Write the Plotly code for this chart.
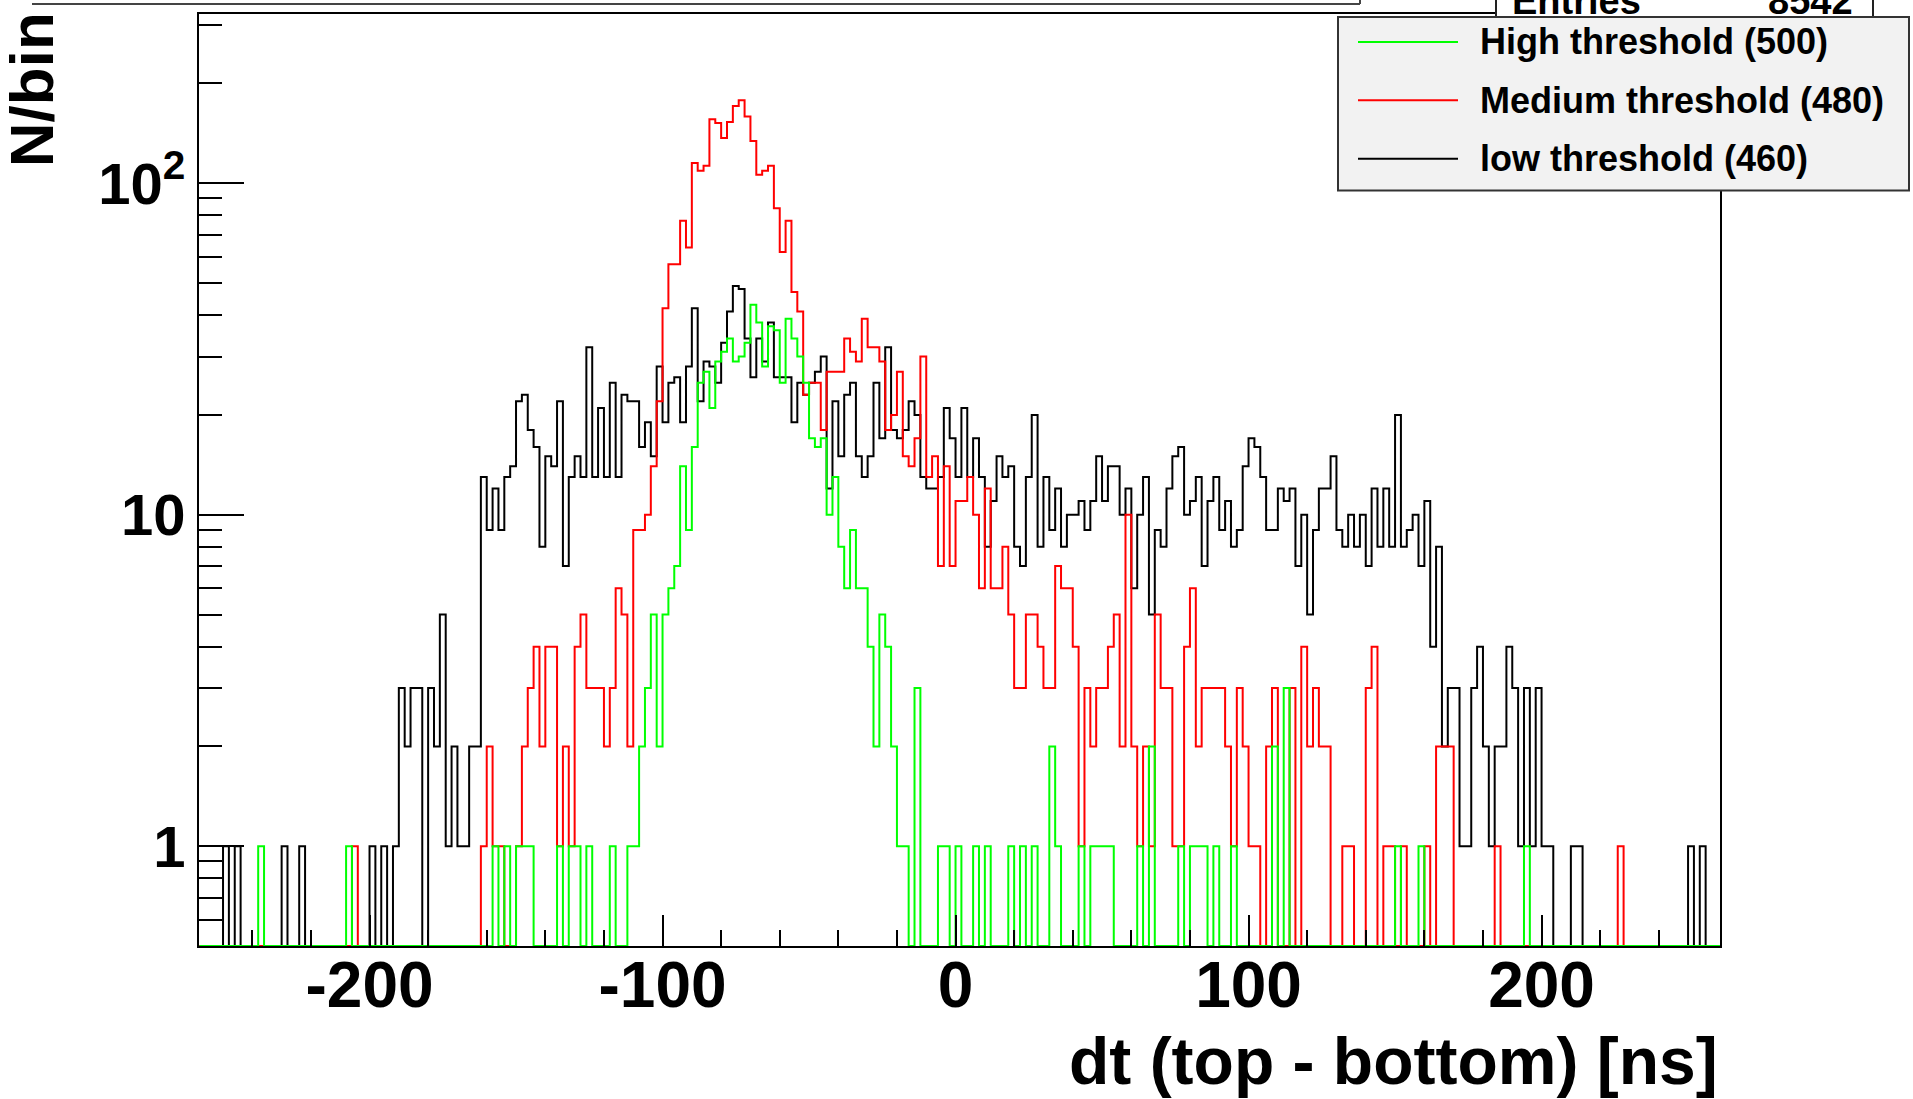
import numpy as np
import plotly.graph_objects as go

# ---------------- data (counts per 2 ns bin, first bin starts at -258 ns) ----------------
BIN_START = -258
BIN_WIDTH = 2

low_460 = [
    0, 0, 0, 0, 1, 0, 1, 0, 0, 0, 0, 0, 0, 0, 1, 0, 0, 1, 0, 0,
    0, 0, 0, 0, 0, 0, 0, 0, 0, 1, 0, 1, 0, 1, 3, 2, 3, 3, 0, 3,
    2, 5, 1, 2, 1, 1, 2, 2, 13, 9, 12, 9, 13, 14, 22, 23, 18, 16, 8, 15,
    14, 22, 7, 13, 15, 13, 32, 13, 21, 13, 25, 13, 23, 22, 22, 16, 19, 15, 28, 19,
    25, 26, 19, 28, 42, 22, 29, 28, 25, 33, 41, 49, 48, 34, 26, 34, 29, 38, 26, 26,
    26, 19, 25, 23, 25, 27, 30, 12, 22, 15, 23, 25, 15, 13, 15, 25, 17, 32, 18, 17,
    18, 22, 20, 13, 12, 12, 13, 21, 17, 13, 21, 13, 17, 13, 8, 11, 15, 13, 14, 8,
    7, 13, 20, 8, 13, 9, 12, 8, 10, 10, 11, 9, 11, 15, 11, 14, 14, 10, 12, 6,
    10, 13, 5, 9, 8, 12, 15, 16, 10, 11, 13, 7, 11, 13, 9, 11, 8, 9, 14, 17,
    16, 13, 9, 9, 12, 11, 12, 7, 10, 5, 9, 12, 12, 15, 9, 8, 10, 8, 10, 7,
    12, 8, 12, 8, 20, 8, 9, 10, 7, 11, 4, 8, 2, 3, 3, 1, 1, 3, 4, 2,
    1, 2, 2, 4, 3, 1, 3, 1, 3, 1, 1, 0, 0, 0, 1, 1, 0, 0, 0, 0,
    0, 0, 0, 0, 0, 0, 0, 0, 0, 0, 0, 0, 0, 0, 1, 0, 1, 0, 0, 0,
]

medium_480 = [
    0, 0, 0, 0, 0, 0, 0, 0, 0, 0, 0, 0, 0, 0, 0, 0, 0, 0, 0, 0,
    0, 0, 0, 0, 0, 0, 1, 0, 0, 0, 0, 0, 0, 0, 0, 0, 0, 0, 0, 0,
    0, 0, 0, 0, 0, 0, 0, 0, 1, 2, 1, 1, 0, 0, 1, 2, 3, 4, 2, 4,
    4, 1, 2, 1, 4, 5, 3, 3, 3, 2, 3, 6, 5, 2, 9, 9, 10, 14, 22, 42,
    57, 57, 77, 64, 115, 109, 113, 156, 152, 137, 153, 171, 178, 159, 134, 106, 109, 113, 84, 62,
    77, 47, 41, 23, 25, 25, 18, 27, 27, 27, 34, 31, 29, 39, 32, 32, 29, 18, 20, 27,
    15, 14, 17, 30, 13, 15, 7, 14, 7, 11, 11, 13, 10, 6, 12, 6, 6, 8, 5, 3,
    3, 5, 5, 4, 3, 3, 7, 6, 6, 4, 1, 3, 2, 3, 3, 4, 5, 2, 10, 2,
    1, 2, 1, 5, 3, 3, 1, 1, 4, 6, 2, 3, 3, 3, 3, 2, 1, 3, 2, 1,
    1, 0, 2, 3, 0, 0, 3, 0, 4, 2, 3, 2, 2, 0, 0, 1, 1, 0, 0, 3,
    4, 0, 1, 1, 0, 1, 0, 0, 0, 1, 0, 2, 2, 2, 0, 0, 0, 0, 0, 0,
    0, 1, 0, 0, 0, 0, 0, 0, 0, 0, 0, 0, 0, 0, 0, 0, 0, 0, 0, 0,
    0, 0, 1, 0, 0, 0, 0, 0, 0, 0, 0, 0, 0, 0, 0, 0, 0, 0, 0, 0,
]

high_500 = [
    0, 0, 0, 0, 0, 0, 0, 0, 0, 0, 1, 0, 0, 0, 0, 0, 0, 0, 0, 0,
    0, 0, 0, 0, 0, 1, 0, 0, 0, 0, 0, 0, 0, 0, 0, 0, 0, 0, 0, 0,
    0, 0, 0, 0, 0, 0, 0, 0, 0, 0, 1, 0, 1, 0, 1, 1, 1, 0, 0, 0,
    0, 1, 0, 1, 1, 0, 1, 0, 0, 0, 1, 0, 0, 1, 1, 2, 3, 5, 2, 5,
    6, 7, 14, 9, 16, 25, 27, 21, 29, 31, 34, 29, 30, 33, 43, 38, 28, 37, 36, 25,
    39, 34, 30, 25, 17, 16, 17, 10, 13, 8, 6, 9, 6, 6, 4, 2, 5, 4, 2, 1,
    1, 0, 3, 0, 0, 0, 1, 1, 0, 1, 0, 0, 1, 0, 1, 0, 0, 0, 1, 0,
    1, 0, 1, 0, 0, 2, 1, 0, 0, 0, 1, 0, 1, 1, 1, 1, 0, 0, 0, 0,
    1, 0, 2, 0, 0, 0, 0, 1, 0, 1, 1, 1, 0, 1, 0, 0, 1, 0, 0, 0,
    0, 0, 0, 2, 0, 3, 0, 0, 0, 0, 0, 0, 0, 0, 0, 0, 0, 0, 0, 0,
    0, 0, 0, 0, 1, 0, 0, 0, 1, 0, 0, 0, 0, 0, 0, 0, 0, 0, 0, 0,
    0, 0, 0, 0, 0, 0, 1, 0, 0, 0, 0, 0, 0, 0, 0, 0, 0, 0, 0, 0,
    0, 0, 0, 0, 0, 0, 0, 0, 0, 0, 0, 0, 0, 0, 0, 0, 0, 0, 0, 0,
]

series_names = ["High threshold (500)", "Medium threshold (480)", "low threshold (460)"]
series_colors = ["#00ff00", "#ff0000", "#000000"]

x_major_ticks = [-200, -100, 0, 100, 200]
x_minor_ticks = [v for v in range(-240, 241, 20) if v % 100 != 0]
y_major_ticks = [1, 10, 100]
y_major_text = ["1", "10", "10<sup>2</sup>"]
y_minor_ticks = [0.6, 0.7, 0.8, 0.9] + list(range(2, 10)) + list(range(20, 100, 10)) + [200, 300]

entries_text = "8542"
x_title = "dt (top - bottom) [ns]"
y_title = "N/bin"

# ---------------- layout geometry (pixels) ----------------
W, H = 1913, 1099
FL, FR, FT, FB = 199, 1720, 12, 946
X_RANGE = [-258.2, 260.9]
Y_MIN, Y_MAX = 0.5, 324.0
FONT = "Liberation Sans"


def px_x(x):
    return (x - FL) / (FR - FL)


def px_y(y):
    return (FB - y) / (FB - FT)


def step_xy(counts):
    counts = np.asarray(counts, dtype=float)
    edges = BIN_START + BIN_WIDTH * np.arange(len(counts) + 1)
    shown = np.where(counts > 0, counts, Y_MIN)  # empty bins sit on the frame bottom
    return edges, np.append(shown, shown[-1])


fig = go.Figure()
# draw order: low, medium, high (high on top)
for counts, name, color in [(low_460, series_names[2], series_colors[2]),
                            (medium_480, series_names[1], series_colors[1]),
                            (high_500, series_names[0], series_colors[0])]:
    xs, ys = step_xy(counts)
    fig.add_trace(go.Scatter(x=xs, y=ys, mode="lines", name=name,
                             line=dict(shape="hv", width=2, color=color),
                             hoverinfo="skip"))

shapes = []
annotations = []

# histogram title pave (only its lower edge is visible)
shapes.append(dict(type="line", xref="paper", yref="paper",
                   x0=px_x(32), x1=px_x(1360), y0=px_y(2), y1=px_y(2),
                   line=dict(color="#444444", width=2)))
shapes.append(dict(type="line", xref="paper", yref="paper",
                   x0=px_x(1360), x1=px_x(1360), y0=px_y(-5), y1=px_y(2),
                   line=dict(color="#444444", width=2)))

# statistics box (mostly outside the canvas / hidden under the legend)
shapes.append(dict(type="rect", xref="paper", yref="paper",
                   x0=px_x(1496), x1=px_x(1873), y0=px_y(-40), y1=px_y(120),
                   fillcolor="white", line=dict(color="#222222", width=2)))
annotations.append(dict(text="<b>Entries</b>", xref="paper", yref="paper",
                        x=px_x(1510), y=px_y(22), xanchor="left", yanchor="bottom",
                        showarrow=False, font=dict(family=FONT, size=38, color="black")))
annotations.append(dict(text="<b>" + entries_text + "</b>", xref="paper", yref="paper",
                        x=px_x(1855), y=px_y(22), xanchor="right", yanchor="bottom",
                        showarrow=False, font=dict(family=FONT, size=38, color="black")))

# legend
shapes.append(dict(type="rect", xref="paper", yref="paper",
                   x0=px_x(1338), x1=px_x(1909), y0=px_y(189), y1=px_y(15),
                   fillcolor="#f2f2f2", line=dict(color="#333333", width=2)))
leg_y = [40, 98.5, 157]
for name, color, yy in zip(series_names, series_colors, leg_y):
    shapes.append(dict(type="line", xref="paper", yref="paper",
                       x0=px_x(1358), x1=px_x(1458), y0=px_y(yy), y1=px_y(yy),
                       line=dict(color=color, width=2)))
    annotations.append(dict(text="<b>" + name + "</b>", xref="paper", yref="paper",
                            x=px_x(1478), y=px_y(yy), xanchor="left", yanchor="middle",
                            showarrow=False, font=dict(family=FONT, size=36, color="black")))

# axis titles
annotations.append(dict(text="<b>" + x_title + "</b>", xref="paper", yref="paper",
                        x=1.0, y=px_y(1061), xanchor="right", yanchor="middle",
                        showarrow=False, font=dict(family=FONT, size=66, color="black")))
annotations.append(dict(text="<b>" + y_title + "</b>", xref="paper", yref="paper",
                        x=px_x(31), y=px_y(168), xanchor="center", yanchor="bottom",
                        textangle=-90, showarrow=False,
                        font=dict(family=FONT, size=62, color="black")))

fig.update_layout(
    width=W, height=H,
    margin=dict(l=FL, r=W - FR, t=FT, b=H - FB, pad=0),
    paper_bgcolor="white", plot_bgcolor="white",
    showlegend=False,
    shapes=shapes, annotations=annotations,
)

fig.update_xaxes(
    range=X_RANGE, showgrid=False, zeroline=False,
    showline=True, linecolor="black", linewidth=2, mirror=True,
    ticks="inside", ticklen=31, tickwidth=1.5, tickcolor="black",
    tickmode="array", tickvals=x_major_ticks, ticktext=[str(v) for v in x_major_ticks],
    tickfont=dict(family=FONT, size=64, color="black", weight="bold"),
    ticklabelstandoff=-18,
    minor=dict(tickmode="array", tickvals=x_minor_ticks, ticks="inside",
               ticklen=16, tickwidth=1.5, tickcolor="black", showgrid=False),
)
fig.update_yaxes(
    type="log", range=[np.log10(Y_MIN), np.log10(Y_MAX)],
    showgrid=False, zeroline=False,
    showline=True, linecolor="black", linewidth=2, mirror=True,
    ticks="inside", ticklen=45, tickwidth=1.5, tickcolor="black",
    tickmode="array", tickvals=y_major_ticks, ticktext=y_major_text,
    tickfont=dict(family=FONT, size=58, color="black", weight="bold"),
    minor=dict(tickmode="array", tickvals=y_minor_ticks, ticks="inside",
               ticklen=23, tickwidth=1.5, tickcolor="black", showgrid=False),
)

fig.write_html("out.html", config={"displayModeBar": False},
               post_script="document.body.style.margin='0px';document.body.style.overflow='hidden';")
